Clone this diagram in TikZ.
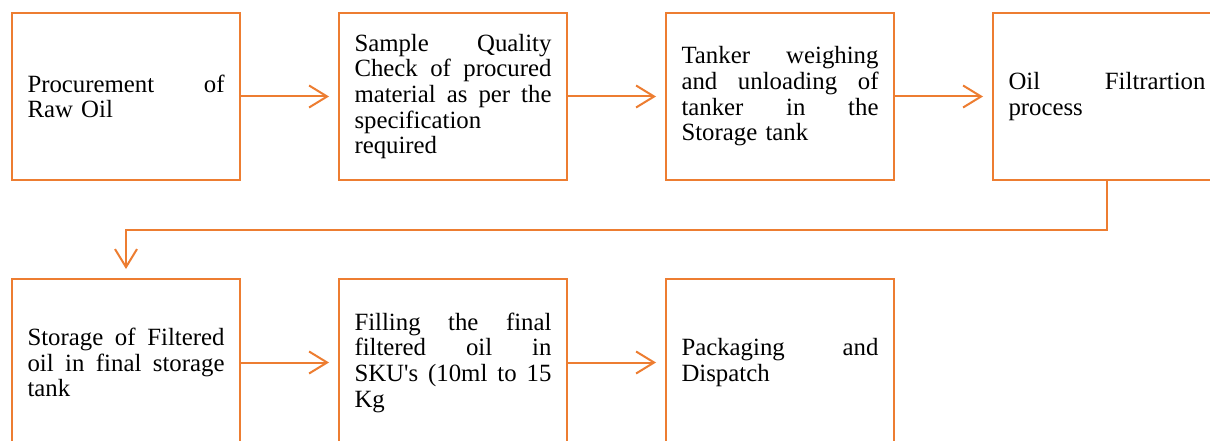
\documentclass[tikz,border=0pt]{standalone}
\usepackage{fontspec}
\setmainfont{Liberation Serif}
\usetikzlibrary{arrows.meta}
\definecolor{boxorange}{HTML}{ED7D31}
\newcommand\jl[1]{\leavevmode\hbox to 197pt{#1}}
\begin{document}
\begin{tikzpicture}[x=1pt,y=-1pt,
  stepbox/.style={draw=boxorange, line width=2pt, minimum width=228pt, minimum height=167pt,
    text width=197pt, inner sep=0pt, align=left, font=\fontsize{24.8}{25.7}\selectfont},
  flow/.style={draw=boxorange, line width=2pt, shorten >=9pt,
    -{Straight Barb[length=18pt,width=22pt]}}]
\useasboundingbox (0,0) rectangle (1210,441);
\clip (0,0) rectangle (1210,441);
\fill[white] (0,0) rectangle (1210,441);
\node[stepbox] (b1) at (126,96.5) {\jl{Procurement\hfill of}\\Raw Oil};
\node[stepbox] (b2) at (453,96.5) {\jl{Sample\hfill Quality}\\\jl{Check\hfill of\hfill procured}\\\jl{material\hfill as\hfill per\hfill the}\\specification\\required};
\node[stepbox] (b3) at (780,96.5) {\jl{Tanker\hfill weighing}\\\jl{and\hfill unloading\hfill of}\\\jl{tanker\hfill in\hfill the}\\Storage tank};
\node[stepbox] (b4) at (1107,96.5) {\jl{Oil\hfill Filtrartion}\\process};
\node[stepbox] (b5) at (126,362.5) {\jl{Storage\hfill of\hfill Filtered}\\\jl{oil\hfill in\hfill final\hfill storage}\\tank};
\node[stepbox] (b6) at (453,362.5) {\jl{Filling\hfill the\hfill final}\\\jl{filtered\hfill oil\hfill in}\\\jl{SKU\textquotesingle s\hfill (10ml\hfill to\hfill 15}\\Kg};
\node[stepbox] (b7) at (780,362.5) {\jl{Packaging\hfill and}\\Dispatch};
\draw[flow] (b1) -- (b2);
\draw[flow] (b2) -- (b3);
\draw[flow] (b3) -- (b4);
\draw[flow] (b4.south) -- ++(0,49) -| (b5.north);
\draw[flow] (b5) -- (b6);
\draw[flow] (b6) -- (b7);
\end{tikzpicture}
\end{document}
